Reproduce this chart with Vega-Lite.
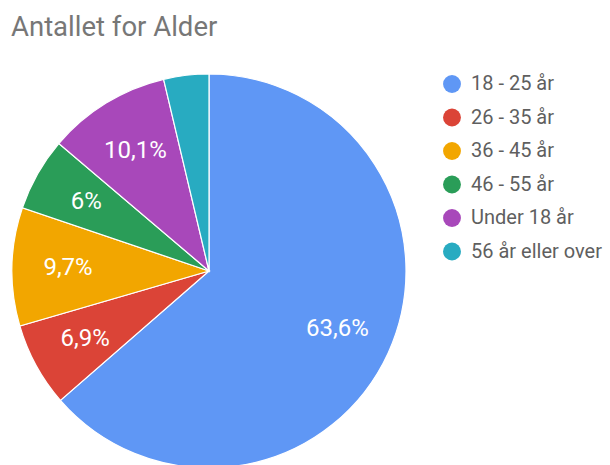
{
  "$schema": "https://vega.github.io/schema/vega-lite/v6.json",
  "width": 418,
  "height": 392,
  "autosize": {"type": "none"},
  "padding": {"left": 0, "top": 75, "right": 192, "bottom": 0},
  "background": "white",
  "title": {
    "text": "Antallet for Alder",
    "anchor": "start",
    "frame": "bounds",
    "font": "Roboto",
    "fontSize": 27.5,
    "fontWeight": "normal",
    "color": "#777777",
    "dx": 11,
    "offset": 30
  },
  "data": {
    "values": [
      {"alder": "18 - 25 år", "andel": 63.6, "etikett": "63,6%", "rekke": 1},
      {"alder": "26 - 35 år", "andel": 6.9, "etikett": "6,9%", "rekke": 2},
      {"alder": "36 - 45 år", "andel": 9.7, "etikett": "9,7%", "rekke": 3},
      {"alder": "46 - 55 år", "andel": 6.0, "etikett": "6%", "rekke": 4},
      {"alder": "Under 18 år", "andel": 10.1, "etikett": "10,1%", "rekke": 5},
      {"alder": "56 år eller over", "andel": 3.7, "etikett": "", "rekke": 6}
    ]
  },
  "encoding": {
    "theta": {"field": "andel", "type": "quantitative", "stack": true},
    "order": {"field": "rekke", "type": "ordinal"},
    "color": {
      "field": "alder",
      "type": "nominal",
      "scale": {
        "domain": ["18 - 25 år", "26 - 35 år", "36 - 45 år", "46 - 55 år", "Under 18 år", "56 år eller over"],
        "range": ["#5F97F5", "#DB4437", "#F2A600", "#2A9D58", "#A848BA", "#28ABC1"]
      },
      "legend": {
        "title": null,
        "orient": "none",
        "legendX": 442,
        "legendY": -1,
        "symbolType": "circle",
        "symbolSize": 320,
        "symbolStrokeWidth": 0,
        "labelFont": "Roboto",
        "labelFontSize": 20,
        "labelColor": "#5f5f5f",
        "labelOffset": 9,
        "rowPadding": 13.5,
        "labelLimit": 300
      }
    }
  },
  "layer": [
    {
      "mark": {"type": "arc", "outerRadius": 197, "stroke": "white", "strokeWidth": 1.2}
    },
    {
      "mark": {"type": "text", "radius": 141, "font": "Roboto", "fontSize": 24, "fill": "white"},
      "encoding": {
        "text": {"field": "etikett", "type": "nominal"},
        "color": {"value": "white"}
      }
    }
  ],
  "config": {"view": {"stroke": null}}
}
